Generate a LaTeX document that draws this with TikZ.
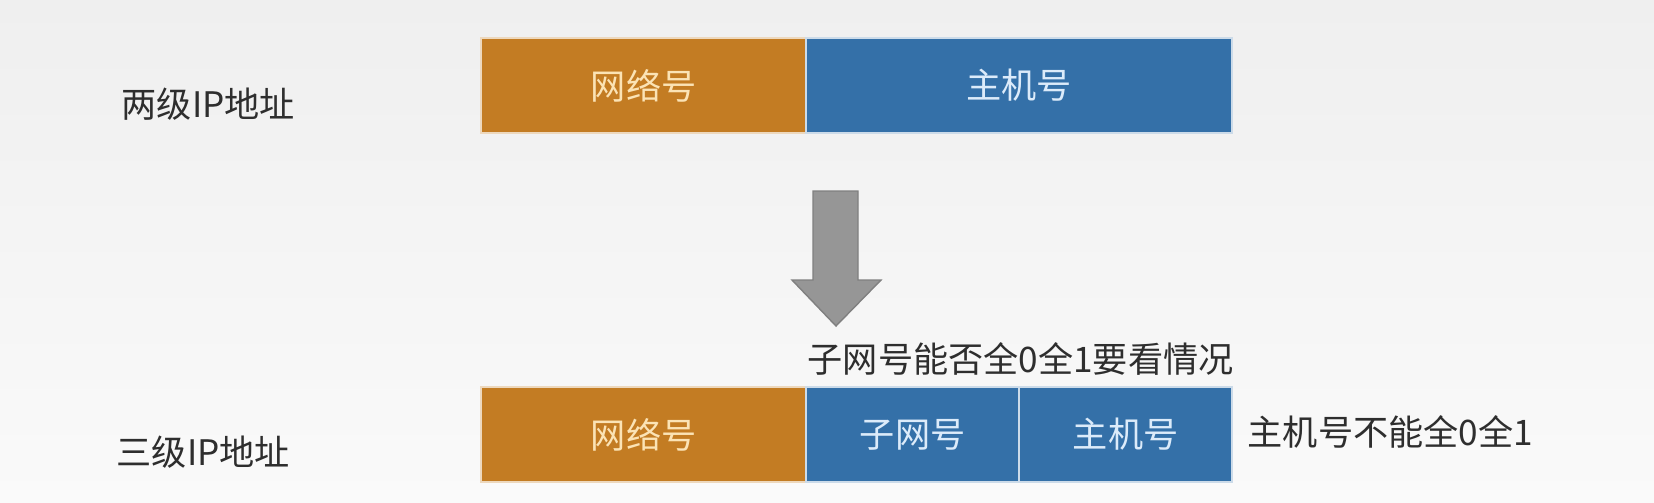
\documentclass[tikz,border=0pt]{standalone}
\usepackage{fontspec}
\setmainfont{Noto Sans CJK SC}
\newfontfamily\cjk{Noto Sans CJK SC}
\definecolor{netorange}{HTML}{C37C23}
\definecolor{hostblue}{HTML}{3470A8}
\definecolor{bgtop}{HTML}{EFEFEF}
\definecolor{bgbot}{HTML}{FAFAFA}
\definecolor{arrowgray}{HTML}{969696}
\definecolor{labelgray}{HTML}{2E2E2E}
\definecolor{netfont}{HTML}{FBE3B5}
\definecolor{hostfont}{HTML}{DCEBFA}
\tikzset{
  field/.style={draw=white!75!hostblue, line width=0.6pt, minimum height=0.95cm, inner sep=0pt, font=\cjk\fontsize{10}{12}\selectfont},
  netfield/.style={field, fill=netorange, text=netfont, draw=white!70!netorange},
  hostfield/.style={field, fill=hostblue, text=hostfont},
  sidelabel/.style={text=labelgray, inner sep=0pt, font=\cjk\fontsize{10}{12}\selectfont},
  blockarrow/.style={fill=arrowgray, draw=arrowgray!85!black, line width=0.4pt}
}
\begin{document}
\begin{tikzpicture}[x=0.01cm, y=-0.01cm]
\useasboundingbox (0,0) rectangle (1654,503);
\shade[top color=bgtop, bottom color=bgbot] (0,0) rectangle (1654,503);
% top row
\node[netfield, minimum width=3.25cm, anchor=north west] (net1) at (480,37) {网络号};
\node[hostfield, minimum width=4.26cm, anchor=north west] (host1) at (805,37) {主机号};
\node[sidelabel, anchor=west] (lab1) at (121,104) {两级IP地址};
% arrow
\path[blockarrow] (813,191) -- (858,191) -- (858,280) -- (881,280) -- (836,326) -- (792,280) -- (813,280) -- cycle;
% note above
\node[sidelabel, anchor=west] (note1) at (807,359) {子网号能否全0全1要看情况};
% bottom row
\node[netfield, minimum width=3.25cm, anchor=north west] (net2) at (480,386) {网络号};
\node[hostfield, minimum width=2.13cm, anchor=north west] (sub2) at (805,386) {子网号};
\node[hostfield, minimum width=2.13cm, anchor=north west] (host2) at (1018,386) {主机号};
\node[sidelabel, anchor=west] (lab2) at (116,452) {三级IP地址};
\node[sidelabel, anchor=west] (note2) at (1247,432) {主机号不能全0全1};
\end{tikzpicture}
\end{document}
